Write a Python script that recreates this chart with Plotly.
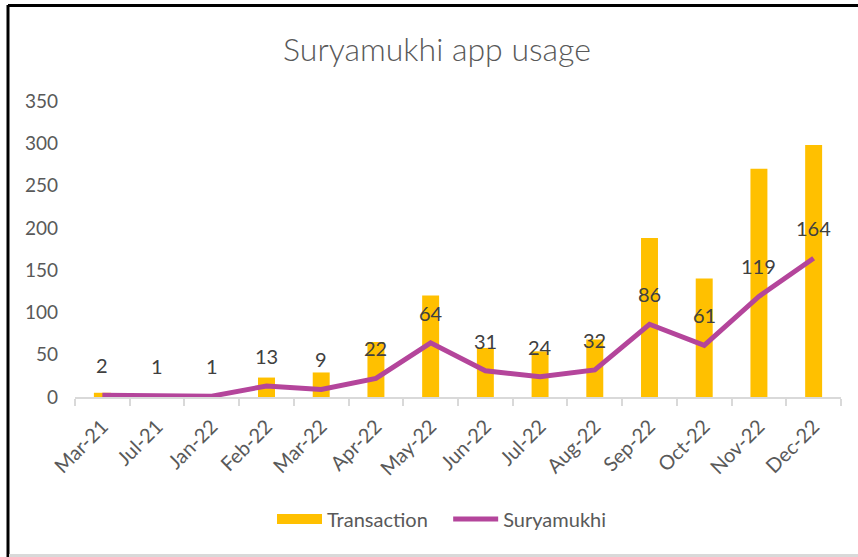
import plotly.graph_objects as go

months = ["Mar-21", "Jul-21", "Jan-22", "Feb-22", "Mar-22", "Apr-22", "May-22",
          "Jun-22", "Jul-22", "Aug-22", "Sep-22", "Oct-22", "Nov-22", "Dec-22"]
transaction = [5, 0, 0, 23, 29, 65, 120, 58, 54, 68, 188, 140, 270, 298]
suryamukhi = [2, 1, 1, 13, 9, 22, 64, 31, 24, 32, 86, 61, 119, 164]
y_ticks = [0, 50, 100, 150, 200, 250, 300, 350]

FONT = "Lato"
BAR = "#FFC000"
LINE = "#B4459B"

fig = go.Figure()
fig.add_trace(go.Bar(x=months, y=transaction, name="Transaction", showlegend=False,
                     marker=dict(color=BAR, line=dict(width=0))))
fig.add_trace(go.Scatter(x=months, y=suryamukhi, name="Suryamukhi", mode="lines",
                         showlegend=False, line=dict(color=LINE, width=5)))
# legend entries styled like the original (wide swatch for bars)
fig.add_trace(go.Scatter(x=[None], y=[None], name="Transaction   ", mode="lines",
                         line=dict(color=BAR, width=10)))
fig.add_trace(go.Scatter(x=[None], y=[None], name="Suryamukhi", mode="lines",
                         line=dict(color=LINE, width=5)))

for m, v in zip(months, suryamukhi):
    fig.add_annotation(x=m, y=v, text=str(v), showarrow=False, yshift=30,
                       font=dict(family=FONT, size=20, color="#404040"))

ml, mr, mt, mb = 75, 17, 101, 160
W, H = 858, 557
pw, ph = W - ml - mr, H - mt - mb

def px(x):
    return (x - ml) / pw

def py(y):
    return (H - mb - y) / ph

shapes = [
    dict(type="line", xref="paper", yref="paper", x0=px(8), x1=px(858), y0=py(5.5), y1=py(5.5),
         line=dict(color="black", width=3)),
    dict(type="line", xref="paper", yref="paper", x0=px(8), x1=px(8), y0=py(5), y1=py(557),
         line=dict(color="black", width=3)),
    dict(type="line", xref="paper", yref="paper", x0=px(9), x1=px(858), y0=py(555.5), y1=py(555.5),
         line=dict(color="#D9D9D9", width=3)),
]

fig.update_layout(
    width=W, height=H,
    margin=dict(l=ml, r=mr, t=mt, b=mb),
    paper_bgcolor="white", plot_bgcolor="white",
    title=dict(text="Suryamukhi app usage", x=437 / W, xanchor="center",
               y=1 - 50 / H, yanchor="middle",
               font=dict(family=FONT, size=32, color="#595959", weight=300)),
    bargap=0.69,
    showlegend=True,
    legend=dict(orientation="h", x=px(442), xanchor="center", y=py(519), yanchor="middle",
                font=dict(family=FONT, size=20, color="#595959"), itemwidth=45,
                tracegroupgap=0),
    xaxis=dict(type="category", showline=True, linecolor="#D9D9D9", linewidth=2,
               ticks="outside", tickson="boundaries", ticklen=7, tickcolor="#D9D9D9", tickwidth=2,
               tickangle=-45, showgrid=False, ticklabelstandoff=8,
               tickfont=dict(family=FONT, size=20, color="#595959")),
    yaxis=dict(range=[0, 350], tickvals=y_ticks, showgrid=False, zeroline=False,
               showline=False, ticks="", ticklabelstandoff=16,
               tickfont=dict(family=FONT, size=19, color="#595959")),
    shapes=shapes,
)

fig.write_html("out.html", config={"displayModeBar": False},
               post_script="document.body.style.margin='0';")
